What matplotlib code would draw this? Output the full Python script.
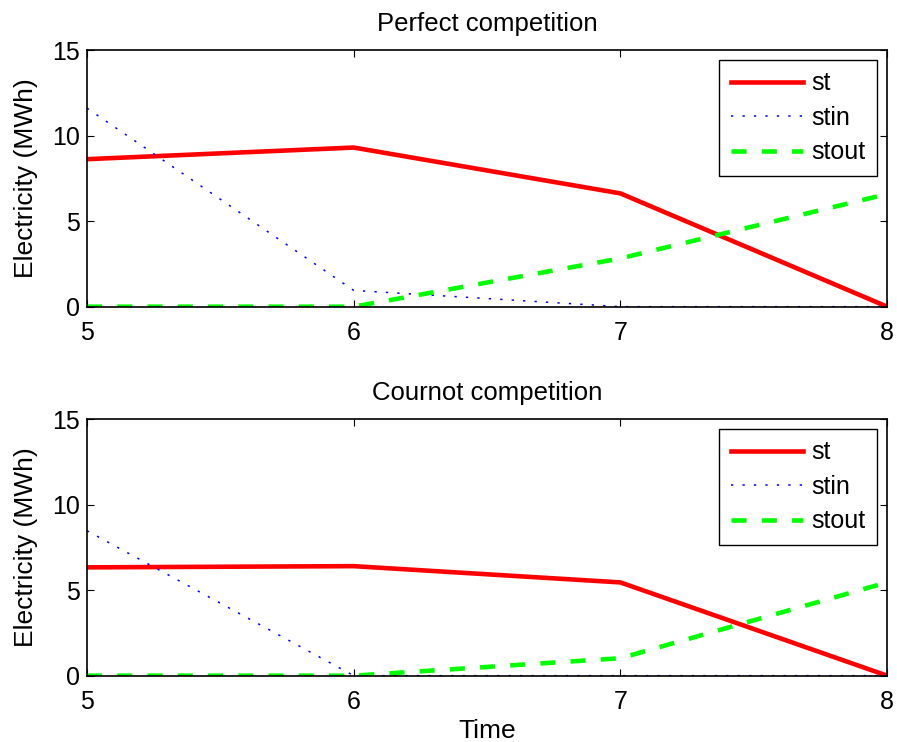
import matplotlib
matplotlib.use('Agg')
import matplotlib.pyplot as plt

t = [5, 6, 7, 8]
# perfect competition
st_pc = [8.62, 9.3, 6.62, 0.0]
stin_pc = [11.6, 0.95, 0.0, 0.0]
stout_pc = [0.0, 0.0, 2.82, 6.58]
# cournot competition
st_cc = [6.33, 6.4, 5.45, 0.0]
stin_cc = [8.47, 0.0, 0.0, 0.0]
stout_cc = [0.0, 0.0, 1.02, 5.45]

titles = ['Perfect competition', 'Cournot competition']
data = [(st_pc, stin_pc, stout_pc), (st_cc, stin_cc, stout_cc)]

plt.rcParams['font.family'] = ['Liberation Sans', 'DejaVu Sans']
fig = plt.figure(figsize=(8.97, 7.42), dpi=100)
axes = [fig.add_axes([0.097, 0.5867, 0.892, 0.3459]),
        fig.add_axes([0.097, 0.0894, 0.892, 0.3459])]

for ax, title, (st, stin, stout) in zip(axes, titles, data):
    ax.plot(t, st, color='red', lw=3.3, label='st')
    ax.plot(t, stin, color='blue', lw=1.1, ls=(0, (1.5, 6)), label='stin')
    ax.plot(t, stout, color='#00ff00', lw=3.3, ls=(0, (3.3, 3.3)), label='stout')
    ax.set_xlim(5, 8)
    ax.set_ylim(0, 15)
    ax.set_xticks([5, 6, 7, 8])
    ax.set_yticks([0, 5, 10, 15])
    ax.tick_params(direction='in', top=True, right=True, labelsize=18, length=5)
    ax.tick_params(axis='x', pad=10)
    ax.tick_params(axis='y', pad=5)
    ax.set_title(title, fontsize=18.5, pad=14)
    ax.set_ylabel('Electricity (MWh)', fontsize=19, labelpad=10)
    for s in ax.spines.values():
        s.set_linewidth(1.2)
    leg = ax.legend(loc='upper right', fontsize=18, handlelength=2.9, fancybox=False,
                    edgecolor='black', framealpha=1, borderaxespad=0.4,
                    labelspacing=0.42, handletextpad=0.35, borderpad=0.45)
    leg.get_frame().set_linewidth(1.0)

axes[1].set_xlabel('Time', fontsize=19, labelpad=4)

fig.savefig('out.png', dpi=100)
